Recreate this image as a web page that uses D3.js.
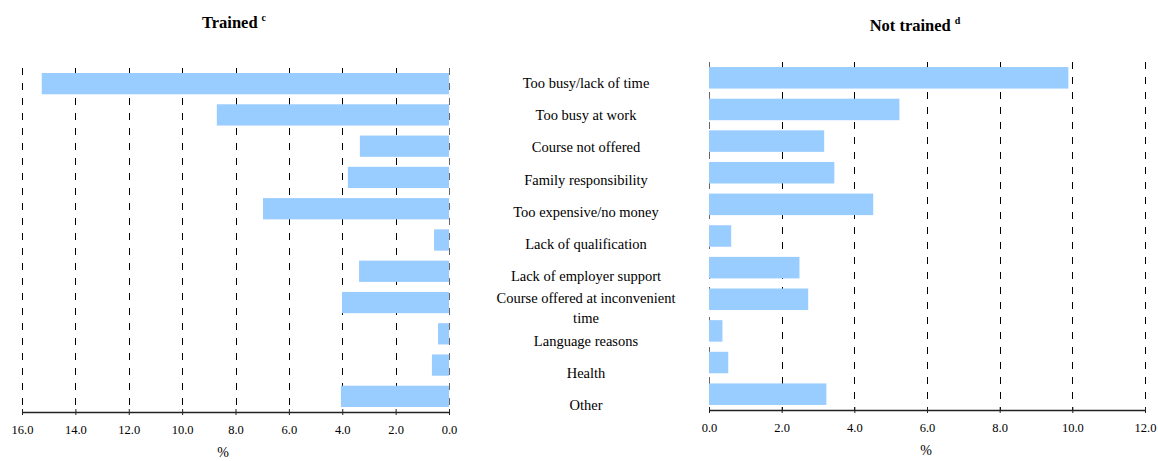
<!DOCTYPE html>
<html><head><meta charset="utf-8">
<script src="https://cdn.jsdelivr.net/npm/d3@7"></script>
<style>body{margin:0;background:#fff}svg{display:block}text{font-family:"Liberation Serif","Times New Roman",serif;fill:#000}</style>
</head><body><svg id="c" width="1158" height="461"></svg>
<script>
const categories = ["Too busy/lack of time","Too busy at work","Course not offered","Family responsibility","Too expensive/no money","Lack of qualification","Lack of employer support","Course offered at inconvenient time","Language reasons","Health","Other"];
const trained = [15.26, 8.70, 3.34, 3.79, 6.97, 0.56, 3.37, 4.01, 0.41, 0.64, 4.05];
const notTrained = [9.89, 5.24, 3.17, 3.45, 4.52, 0.61, 2.49, 2.73, 0.37, 0.53, 3.23];
const leftTicks = [16, 14, 12, 10, 8, 6, 4, 2, 0];
const rightTicks = [0, 2, 4, 6, 8, 10, 12];

const svg = d3.select("#c");
const barColor = "#99CCFF";

function panel(opts) {
  const g = svg.append("g");
  const x = d3.scaleLinear().domain(opts.domain).range(opts.xr);
  const y = d3.scaleBand().domain(categories).range(opts.yr).paddingInner(0.32).paddingOuter(0.16);
  g.selectAll("line.grid").data(opts.ticks).join("line")
    .attr("x1", d => Math.round(x(d)) + 0.5).attr("x2", d => Math.round(x(d)) + 0.5)
    .attr("y1", opts.yr[0]).attr("y2", opts.yr[1])
    .attr("stroke", d => d === 0 ? "#666" : "#000").attr("stroke-width", 1)
    .attr("stroke-dasharray", "7,8");
  g.selectAll("rect").data(opts.values).join("rect")
    .attr("x", (d) => Math.min(x(0), x(d)))
    .attr("width", d => Math.abs(x(d) - x(0)))
    .attr("y", (d, i) => y(categories[i]))
    .attr("height", y.bandwidth())
    .attr("fill", barColor);
  const axis = d3.axisBottom(x).tickValues(opts.ticks).tickFormat(d3.format(".1f")).tickSize(3).tickSizeOuter(0);
  const ag = g.append("g").attr("transform", `translate(0,${opts.yr[1]})`).call(axis);
  ag.select(".domain").attr("stroke", "#222").attr("stroke-width", 1.3);
  ag.selectAll(".tick line").attr("stroke", "#222").attr("y1", -3);
  ag.selectAll(".tick text").attr("font-size", 12.5).attr("dy", "1.3em").attr("fill", "#000");
  g.append("text").attr("x", opts.pctX).attr("y", opts.yr[1] + 45)
    .attr("text-anchor", "middle").attr("font-size", 14).text("%");
  const t = g.append("text").attr("x", opts.titleX).attr("y", opts.titleY)
    .attr("text-anchor", "middle").attr("font-size", 16.5).attr("font-weight", "bold");
  t.append("tspan").text(opts.title);
  t.append("tspan").attr("font-size", 10).attr("dx", 4).attr("dy", -7).text(opts.sup);
  return y;
}

panel({domain: [16, 0], xr: [22, 449], yr: [68, 412], ticks: leftTicks, values: trained,
  pctX: 223, titleX: 234, titleY: 28, title: "Trained", sup: "c"});
panel({domain: [0, 12], xr: [709, 1145], yr: [62, 410], ticks: rightTicks, values: notTrained,
  pctX: 926, titleX: 915, titleY: 31, title: "Not trained", sup: "d"});

const ly = d3.scalePoint().domain(categories).range([83, 405]);
const lg = svg.append("g");
categories.forEach(c => {
  const t = lg.append("text").attr("x", 586).attr("text-anchor", "middle").attr("font-size", 14.5);
  const words = c.split(" ");
  let lines = [], cur = [];
  const probe = t.append("tspan");
  words.forEach(w => {
    const trial = cur.concat(w).join(" ");
    probe.text(trial);
    if (probe.node().getComputedTextLength() > 195 && cur.length) { lines.push(cur.join(" ")); cur = [w]; }
    else cur.push(w);
  });
  lines.push(cur.join(" "));
  probe.remove();
  const lh = 20;
  const y0 = ly(c) - (lines.length - 1) * lh / 2;
  lines.forEach((l, i) => {
    t.append("tspan").attr("x", 586).attr("y", y0 + i * lh).attr("dy", "0.35em").text(l);
  });
});
</script></body></html>
